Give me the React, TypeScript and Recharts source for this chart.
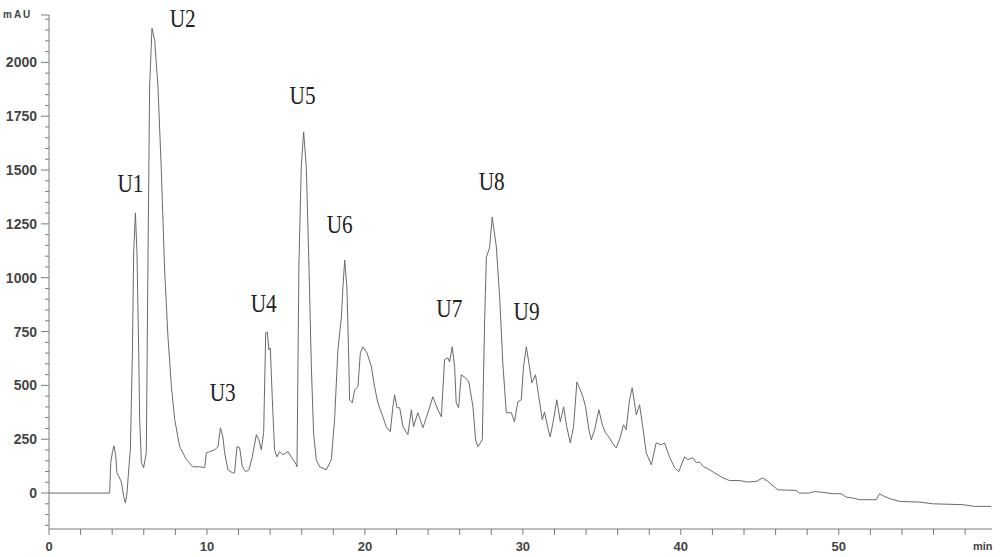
import React from "react"
import { LineChart, Line, XAxis, YAxis, ReferenceDot } from "recharts"

// retention time (min) and absorbance (mAU)
const times = [
  0, 3.84, 3.91, 4.01, 4.11, 4.22, 4.3, 4.43, 4.58, 4.73, 4.84, 4.94, 5.06, 5.15, 5.28, 5.36, 5.47,
  5.57, 5.68, 5.74, 5.85, 5.99, 6.16, 6.27, 6.37, 6.52, 6.69, 6.9, 7.11, 7.32, 7.53, 7.75, 7.96,
  8.27, 8.7, 9.11, 9.54, 9.86, 9.96, 10.17, 10.49, 10.7, 10.85, 11.01, 11.12, 11.33, 11.61, 11.75,
  11.9, 12.07, 12.24, 12.45, 12.66, 12.87, 13.13, 13.29, 13.44, 13.59, 13.72, 13.82, 13.92, 14.01,
  14.14, 14.28, 14.43, 14.6, 14.81, 15.13, 15.34, 15.66, 15.7, 15.82, 15.97, 16.12, 16.29, 16.46,
  16.61, 16.75, 16.92, 17.13, 17.56, 17.87, 18.08, 18.29, 18.51, 18.61, 18.72, 18.86, 18.99, 19.03,
  19.2, 19.35, 19.56, 19.71, 19.87, 20.13, 20.41, 20.61, 20.82, 21.14, 21.35, 21.61, 21.77, 21.88,
  22.03, 22.2, 22.41, 22.72, 22.94, 23.08, 23.35, 23.67, 23.99, 24.3, 24.62, 24.84, 25.04, 25.25,
  25.36, 25.53, 25.68, 25.78, 25.93, 26.1, 26.37, 26.58, 26.84, 27.01, 27.15, 27.43, 27.58, 27.69,
  27.89, 28.06, 28.32, 28.53, 28.73, 28.95, 29.27, 29.47, 29.68, 29.9, 30.04, 30.22, 30.38, 30.57,
  30.8, 31.01, 31.23, 31.37, 31.58, 31.73, 31.94, 32.15, 32.37, 32.58, 32.78, 33.0, 33.21, 33.42,
  33.63, 33.8, 33.97, 34.18, 34.33, 34.54, 34.81, 35.03, 35.23, 35.44, 35.66, 35.91, 36.16, 36.37,
  36.54, 36.75, 36.92, 37.18, 37.39, 37.59, 37.81, 38.13, 38.44, 38.76, 38.97, 39.28, 39.6, 39.87,
  40.23, 40.44, 40.76, 40.97, 41.18, 41.44, 41.71, 42.13, 42.66, 43.08, 43.72, 44.24, 44.77, 45.19,
  45.51, 46.14, 47.3, 47.51, 48.15, 48.46, 48.99, 49.62, 50.15, 50.47, 50.89, 51.31, 52.37, 52.58,
  52.89, 53.32, 53.84, 55.11, 55.95, 57.85, 58.59, 59.65,
]

const absorbance = [
  0, 0, 141, 187, 219, 178, 94, 76, 52, -17, -46, 1, 122, 201, 651, 1115, 1301,
  1115, 651, 341, 141, 118, 187, 1115, 1886, 2159, 2103, 1886, 1500, 1036, 726, 494, 341,
  216, 155, 122, 122, 118, 187, 192, 201, 215, 303, 261, 187, 108, 94, 94,
  215, 210, 122, 99, 108, 168, 271, 247, 201, 280, 744, 748, 665, 674,
  433, 201, 168, 192, 178, 192, 168, 131, 122, 1050, 1514, 1677, 1514, 1050,
  586, 280, 155, 122, 108, 155, 340, 665, 818, 957, 1082, 957, 586, 433,
  419, 479, 494, 651, 679, 651, 586, 494, 419, 354, 308, 285, 400, 456,
  396, 396, 308, 271, 387, 308, 373, 303, 373, 447, 387, 354, 619, 628,
  609, 679, 586, 419, 396, 549, 535, 516, 400, 247, 215, 247, 804, 1096,
  1138, 1282, 1143, 911, 605, 373, 373, 331, 424, 433, 586, 679, 605, 512,
  549, 447, 340, 377, 303, 261, 340, 433, 331, 400, 308, 233, 308, 516,
  479, 447, 400, 294, 247, 294, 387, 317, 280, 261, 233, 210, 257, 317,
  294, 433, 489, 363, 410, 308, 187, 131, 233, 224, 233, 168, 118, 99,
  168, 155, 164, 141, 145, 122, 113, 94, 71, 58, 58, 51, 54, 70,
  54, 15, 12, 0, 0, 7, 3, -3, -3, -19, -23, -31, -31, -3,
  -16, -28, -39, -42, -50, -54, -62, -62,
]

const peakNames = ["U1", "U2", "U3", "U4", "U5", "U6", "U7", "U8", "U9"]
const peakLabelTimes = [4.33, 7.64, 10.17, 12.77, 15.23, 17.58, 24.52, 27.2, 29.41]
const peakLabelValues = [1398, 2165, 428, 843, 1806, 1208, 818, 1407, 804]

const xTicks = Array.from({ length: 30 }, (_, i) => i * 2)
const yTicks = [...Array.from({ length: 48 }, (_, i) => -150 + i * 50), 2220]

const data = times.map((t, i) => ({ t, v: absorbance[i] }))

const axisColor = "#7a7a7a"
const textColor = "#444"

function XTick(props: any) {
  const { x, y, payload } = props
  const v = payload.value
  return (
    <g>
      <line x1={x} x2={x} y1={y} y2={y + 6} stroke={axisColor} />
      {v % 10 === 0 && (
        <text
          x={x}
          y={y + 22}
          textAnchor="middle"
          fontFamily="Arial, 'Liberation Sans', sans-serif"
          fontSize={13}
          fontWeight="bold"
          fill={textColor}
        >
          {v}
        </text>
      )}
    </g>
  )
}

function YTick(props: any) {
  const { x, y, payload } = props
  const v = payload.value
  const major = (v % 250 === 0 && v >= 0) || v === 2220
  return (
    <g>
      <line x1={x - (major ? 8 : 4)} x2={x} y1={y} y2={y} stroke={axisColor} />
      {major && v !== 2220 && (
        <text
          x={x - 12}
          y={y + 5}
          textAnchor="end"
          fontFamily="Arial, 'Liberation Sans', sans-serif"
          fontSize={14}
          fontWeight="bold"
          fill={textColor}
        >
          {v}
        </text>
      )}
    </g>
  )
}

function PeakLabel(name: string) {
  return (p: any) => (
    <text
      x={p.cx}
      y={p.cy}
      fontFamily="'Liberation Serif', 'Times New Roman', serif"
      fontSize={26}
      textLength={26}
      lengthAdjust="spacingAndGlyphs"
      fill="#222"
    >
      {name}
    </text>
  )
}

export default function App() {
  return (
    <div style={{ position: "absolute", left: 0, top: 0, width: 1000, height: 557, background: "#fff" }}>
      <LineChart width={1000} height={557} data={data} margin={{ top: 15, right: 8, left: 0, bottom: 0 }}>
        <XAxis
          dataKey="t"
          type="number"
          domain={[0, 59.7]}
          ticks={xTicks}
          interval={0}
          tickSize={0}
          tickMargin={0}
          tickLine={false}
          tick={<XTick />}
          axisLine={{ stroke: axisColor }}
          height={28}
          allowDataOverflow
        />
        <YAxis
          type="number"
          domain={[-167, 2220]}
          ticks={yTicks}
          interval={0}
          tickSize={0}
          tickMargin={0}
          tickLine={false}
          tick={<YTick />}
          axisLine={{ stroke: axisColor }}
          width={49}
          allowDataOverflow
        />
        <Line
          type="linear"
          dataKey="v"
          stroke="#6a6a6a"
          strokeWidth={1}
          dot={false}
          isAnimationActive={false}
        />
        {peakNames.map((name, i) => (
          <ReferenceDot
            key={name}
            x={peakLabelTimes[i]}
            y={peakLabelValues[i]}
            r={0}
            ifOverflow="visible"
            shape={PeakLabel(name)}
          />
        ))}
      </LineChart>
      <div
        style={{
          position: "absolute",
          left: 3,
          top: 9,
          fontFamily: "Arial, 'Liberation Sans', sans-serif",
          fontSize: 10,
          fontWeight: "bold",
          letterSpacing: 2,
          color: textColor,
        }}
      >
        mAU
      </div>
      <div
        style={{
          position: "absolute",
          left: 973,
          top: 540,
          fontFamily: "Arial, 'Liberation Sans', sans-serif",
          fontSize: 11,
          fontWeight: "bold",
          color: textColor,
        }}
      >
        min
      </div>
    </div>
  )
}
